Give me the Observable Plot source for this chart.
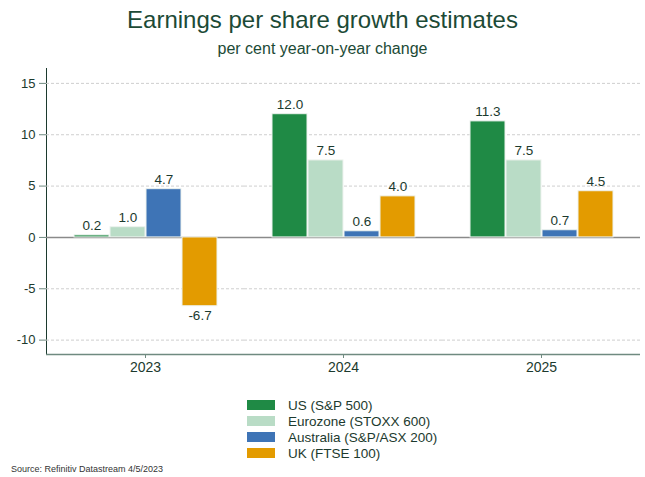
<!DOCTYPE html>
<html>
<head>
<meta charset="utf-8">
<script src="https://cdn.jsdelivr.net/npm/d3@7"></script>
<script src="https://cdn.jsdelivr.net/npm/@observablehq/plot@0.6"></script>
<style>
  body { margin: 0; background: #fff; font-family: "Liberation Sans", Arial, sans-serif; }
  #wrap { position: relative; width: 645px; height: 477px; overflow: hidden; }
  #title { position: absolute; top: 6px; left: 0; width: 645px; text-align: center; font-size: 24px; color: #1c4a36; }
  #subtitle { position: absolute; top: 40px; left: 0; width: 645px; text-align: center; font-size: 16px; color: #1c4a36; }
  #chart { position: absolute; top: 60px; left: 0; }
  #legend { position: absolute; top: 397px; left: 247px; font-size: 13.5px; color: #1c3a2e; }
  .item { display: flex; align-items: center; height: 16px; }
  .sw { width: 28px; height: 10px; margin-right: 13px; }
  #source { position: absolute; top: 464px; left: 11px; font-size: 9px; color: #333; }
</style>
</head>
<body>
<div id="wrap">
  <div id="title">Earnings per share growth estimates</div>
  <div id="subtitle">per cent year-on-year change</div>
  <div id="chart"></div>
  <div id="legend"></div>
  <div id="source">Source: Refinitiv Datastream 4/5/2023</div>
</div>
<script>
const years = ["2023", "2024", "2025"];
const series = ["US (S&P 500)", "Eurozone (STOXX 600)", "Australia (S&P/ASX 200)", "UK (FTSE 100)"];
const colors = ["#1f8a45", "#b9dcc6", "#3e74b6", "#e39b00"];
const us = [0.2, 12.0, 11.3];
const eurozone = [1.0, 7.5, 7.5];
const australia = [4.7, 0.6, 0.7];
const uk = [-6.7, 4.0, 4.5];
const yTicks = [-10, -5, 0, 5, 10, 15];

const valuesBySeries = [us, eurozone, australia, uk];
const data = [];
years.forEach((yr, i) => {
  series.forEach((s, j) => {
    data.push({year: yr, series: s, value: valuesBySeries[j][i]});
  });
});

const axisColor = "#6f8a80";
const textColor = "#1c3a2e";

const chart = Plot.plot({
  width: 645,
  height: 324,
  marginLeft: 45,
  marginRight: 5,
  marginTop: 8,
  marginBottom: 30,
  style: {fontFamily: "Liberation Sans, Arial, sans-serif", fontSize: "13px", color: textColor},
  fx: {domain: years, padding: 0, label: null, tickSize: 4, tickPadding: 4},
  x: {domain: series, paddingInner: 0.03, paddingOuter: 0.71, axis: null},
  y: {domain: [-11.4, 16.45], ticks: yTicks, tickFormat: d => String(d), label: null, tickSize: 7, tickPadding: 4, line: true},
  color: {domain: series, range: colors},
  marks: [
    Plot.gridY(yTicks.filter(d => d !== 0), {stroke: "#cfcfcf", strokeOpacity: 1, strokeDasharray: "3,2"}),
    Plot.ruleY([0], {stroke: "#8a8a8a", strokeWidth: 1.5}),
    Plot.ruleY([-11.4], {stroke: axisColor, strokeWidth: 1.5}),
    Plot.barY(data, {fx: "year", x: "series", y: "value", fill: "series", stroke: "#eef3ef", strokeWidth: 1}),
    Plot.text(data.filter(d => d.value >= 0), {fx: "year", x: "series", y: "value", text: d => d.value.toFixed(1), lineAnchor: "bottom", dy: -5, fill: textColor, fontSize: 13.5}),
    Plot.text(data.filter(d => d.value < 0), {fx: "year", x: "series", y: "value", text: d => d.value.toFixed(1), lineAnchor: "top", dy: 4, fill: textColor, fontSize: 13.5})
  ]
});
document.getElementById("chart").appendChild(chart);
const sel = d3.select(chart);
sel.selectAll("[aria-label='y-axis line'] line, [aria-label='y-axis tick'] path, [aria-label='fx-axis tick'] path").attr("stroke", axisColor);
sel.selectAll("[aria-label='fx-axis tick label']").attr("font-size", 14);

const legend = document.getElementById("legend");
series.forEach((s, j) => {
  const it = document.createElement("div");
  it.className = "item";
  const sw = document.createElement("div");
  sw.className = "sw";
  sw.style.background = colors[j];
  const lb = document.createElement("span");
  lb.textContent = s;
  it.appendChild(sw); it.appendChild(lb);
  legend.appendChild(it);
});
</script>
</body>
</html>
